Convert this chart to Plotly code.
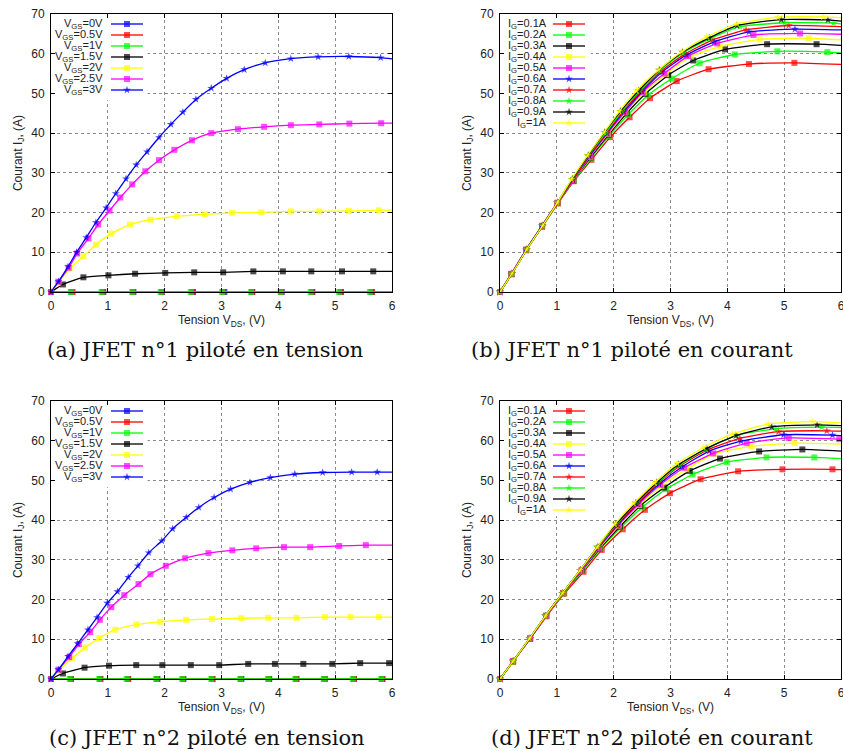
import plotly.graph_objects as go

# ---------------- data ----------------
# (a) JFET 1, voltage driven
A_X_0V = [0, 0.36, 0.92, 1.45, 1.95, 2.50, 3.05, 3.54, 4.06, 4.60, 5.10, 5.64, 6.0]
A_Y_0V = [0, 0, 0, 0, 0, 0, 0, 0, 0, 0, 0, 0, 0]
A_X_05V = [0, 0.38, 0.91, 1.44, 1.95, 2.48, 3.03, 3.54, 4.05, 4.59, 5.10, 5.65, 6.0]
A_Y_05V = [0, 0, 0, 0, 0, 0, 0, 0, 0, 0, 0, 0, 0]
A_X_1V = [0, 0.35, 0.89, 1.43, 1.93, 2.46, 3.01, 3.52, 4.04, 4.57, 5.07, 5.61, 6.0]
A_Y_1V = [0, 0, 0, 0, 0, 0, 0, 0, 0, 0, 0, 0, 0]
A_X_15V = [0, 0.21, 0.57, 1.01, 1.48, 2.01, 2.52, 3.03, 3.56, 4.08, 4.58, 5.12, 5.67, 6.0]
A_Y_15V = [0, 1.9, 3.7, 4.2, 4.6, 4.8, 4.95, 4.95, 5.2, 5.2, 5.2, 5.2, 5.2, 5.2]
A_X_2V = [0, 0.13, 0.33, 0.57, 0.79, 1.06, 1.39, 1.75, 2.21, 2.71, 3.19, 3.70, 4.22, 4.72, 5.24, 5.77, 6.0]
A_Y_2V = [0, 2.3, 5.9, 9.0, 11.9, 14.7, 17.0, 18.2, 19.05, 19.55, 19.9, 20.05, 20.3, 20.3, 20.4, 20.55, 20.6]
A_X_25V = [0, 0.13, 0.31, 0.46, 0.66, 0.83, 1.03, 1.22, 1.43, 1.66, 1.90, 2.17, 2.48, 2.82, 3.29, 3.75, 4.22, 4.72, 5.25, 5.81, 6.0]
A_Y_25V = [0, 2.6, 6.1, 9.7, 13.5, 17.0, 20.5, 23.8, 27.1, 30.4, 33.2, 35.8, 38.2, 40.0, 41.0, 41.6, 42.0, 42.2, 42.4, 42.5, 42.5]
A_X_3V = [0, 0.13, 0.30, 0.45, 0.62, 0.79, 0.97, 1.14, 1.32, 1.50, 1.69, 1.90, 2.11, 2.32, 2.55, 2.82, 3.09, 3.40, 3.77, 4.22, 4.70, 5.24, 5.80, 6.0]
A_Y_3V = [0, 2.6, 6.4, 10.0, 13.7, 17.5, 21.2, 24.8, 28.5, 32.0, 35.3, 38.9, 42.2, 45.3, 48.5, 51.3, 53.8, 56.0, 57.7, 58.75, 59.2, 59.3, 59.0, 58.7]

# (c) JFET 2, voltage driven
C_X_0V = [0, 0.35, 0.87, 1.35, 1.87, 2.33, 2.84, 3.35, 3.84, 4.32, 4.81, 5.33, 5.83, 6.0]
C_Y_0V = [0, 0, 0, 0, 0, 0, 0, 0, 0, 0, 0, 0, 0, 0]
C_X_05V = [0, 0.35, 0.86, 1.36, 1.87, 2.32, 2.84, 3.34, 3.83, 4.31, 4.82, 5.33, 5.83, 6.0]
C_Y_05V = [0, 0, 0, 0, 0, 0, 0, 0, 0, 0, 0, 0, 0, 0]
C_X_1V = [0, 0.33, 0.85, 1.33, 1.85, 2.31, 2.82, 3.33, 3.82, 4.30, 4.80, 5.31, 5.81, 6.0]
C_Y_1V = [0, 0, 0, 0, 0, 0, 0, 0, 0, 0, 0, 0, 0, 0]
C_X_15V = [0, 0.21, 0.59, 1.02, 1.50, 1.96, 2.46, 2.96, 3.47, 3.94, 4.44, 4.95, 5.44, 5.95, 6.0]
C_Y_15V = [0, 1.4, 2.85, 3.35, 3.5, 3.5, 3.5, 3.5, 3.8, 3.8, 3.8, 3.8, 4.0, 4.0, 4.0]
C_X_2V = [0, 0.13, 0.37, 0.60, 0.85, 1.13, 1.50, 1.92, 2.38, 2.83, 3.35, 3.82, 4.32, 4.82, 5.27, 5.77, 6.0]
C_Y_2V = [0, 2.0, 5.2, 7.9, 10.3, 12.4, 13.7, 14.4, 14.9, 15.1, 15.3, 15.4, 15.4, 15.6, 15.6, 15.6, 15.6]
C_X_25V = [0, 0.13, 0.32, 0.49, 0.69, 0.86, 1.06, 1.29, 1.54, 1.75, 2.02, 2.36, 2.77, 3.19, 3.61, 4.10, 4.56, 5.07, 5.54, 6.0]
C_Y_25V = [0, 2.35, 5.5, 8.8, 11.8, 14.9, 18.1, 21.1, 23.9, 26.4, 28.5, 30.4, 31.7, 32.4, 32.9, 33.2, 33.2, 33.5, 33.7, 33.7]
C_X_3V = [0, 0.13, 0.30, 0.47, 0.65, 0.81, 0.99, 1.17, 1.36, 1.53, 1.72, 1.95, 2.14, 2.38, 2.60, 2.87, 3.16, 3.50, 3.86, 4.29, 4.78, 5.29, 5.74, 6.0]
C_Y_3V = [0, 2.35, 5.7, 8.9, 12.4, 15.5, 19.1, 22.0, 25.6, 28.5, 31.8, 34.8, 37.8, 40.7, 43.2, 45.7, 47.8, 49.5, 50.7, 51.6, 52.0, 52.1, 52.1, 52.1]

# (b) JFET 1, current driven
B_X_01 = [0, 0.2, 0.46, 0.74, 1.02, 1.30, 1.61, 1.94, 2.28, 2.64, 3.11, 3.67, 4.38, 5.18, 6.0]
B_Y_01 = [0, 4.5, 10.5, 16.4, 22.3, 27.9, 33.3, 39.0, 44.0, 48.8, 53.1, 56.1, 57.4, 57.7, 57.3]
B_X_02 = [0, 0.2, 0.46, 0.74, 1.01, 1.30, 1.60, 1.92, 2.25, 2.60, 3.02, 3.51, 4.13, 4.88, 5.76, 6.0]
B_Y_02 = [0, 4.5, 10.6, 16.5, 22.4, 28.0, 33.7, 39.3, 44.6, 49.5, 53.7, 57.6, 59.8, 60.6, 60.4, 60.2]
B_X_03 = [0, 0.2, 0.46, 0.74, 1.01, 1.29, 1.59, 1.91, 2.23, 2.56, 2.96, 3.40, 3.96, 4.70, 5.57, 6.0]
B_Y_03 = [0, 4.5, 10.6, 16.6, 22.4, 28.1, 33.9, 39.6, 45.0, 49.9, 54.6, 58.3, 61.1, 62.4, 62.4, 62.1]
B_X_04 = [0, 0.2, 0.46, 0.74, 1.01, 1.29, 1.58, 1.90, 2.21, 2.54, 2.92, 3.36, 3.87, 4.57, 5.43, 6.0]
B_Y_04 = [0, 4.5, 10.6, 16.6, 22.4, 28.2, 34.0, 39.8, 45.2, 50.2, 54.9, 59.3, 61.8, 63.6, 63.9, 63.5]
B_X_05 = [0, 0.2, 0.46, 0.74, 1.01, 1.29, 1.58, 1.89, 2.20, 2.51, 2.89, 3.31, 3.82, 4.46, 5.28, 6.0]
B_Y_05 = [0, 4.6, 10.7, 16.7, 22.5, 28.2, 34.1, 39.9, 45.3, 50.3, 55.0, 59.4, 62.6, 64.7, 65.1, 64.9]
B_X_06 = [0, 0.21, 0.46, 0.74, 1.01, 1.28, 1.57, 1.88, 2.18, 2.50, 2.85, 3.28, 3.77, 4.38, 5.19, 6.0]
B_Y_06 = [0, 4.6, 10.7, 16.7, 22.5, 28.3, 34.2, 40.0, 45.4, 50.5, 55.4, 59.7, 63.0, 65.5, 66.2, 66.0]
B_X_07 = [0, 0.21, 0.47, 0.75, 1.01, 1.28, 1.56, 1.87, 2.16, 2.48, 2.83, 3.25, 3.74, 4.33, 5.08, 6.0]
B_Y_07 = [0, 4.6, 10.7, 16.7, 22.5, 28.3, 34.2, 40.1, 45.4, 50.6, 55.6, 59.9, 63.5, 66.0, 67.1, 66.8]
B_X_08 = [0, 0.21, 0.47, 0.75, 1.01, 1.27, 1.55, 1.86, 2.14, 2.46, 2.81, 3.22, 3.70, 4.22, 5.01, 5.87, 6.0]
B_Y_08 = [0, 4.6, 10.7, 16.7, 22.5, 28.4, 34.3, 40.1, 45.5, 50.7, 55.8, 60.2, 63.8, 66.8, 67.8, 67.7, 67.5]
B_X_09 = [0, 0.21, 0.47, 0.75, 1.01, 1.27, 1.55, 1.84, 2.12, 2.44, 2.80, 3.21, 3.68, 4.17, 4.95, 5.77, 6.0]
B_Y_09 = [0, 4.6, 10.7, 16.7, 22.5, 28.4, 34.4, 40.2, 45.5, 50.7, 55.9, 60.4, 64.0, 67.1, 68.6, 68.5, 68.2]
B_X_10 = [0, 0.21, 0.47, 0.75, 1.01, 1.26, 1.54, 1.83, 2.10, 2.40, 2.79, 3.20, 3.64, 4.17, 4.89, 5.69, 6.0]
B_Y_10 = [0, 4.6, 10.7, 16.7, 22.5, 28.4, 34.4, 40.2, 45.5, 50.7, 55.9, 60.5, 64.3, 67.5, 69.2, 69.3, 69.1]

# (d) JFET 2, current driven
D_X_01 = [0, 0.23, 0.53, 0.82, 1.13, 1.47, 1.79, 2.16, 2.55, 2.99, 3.53, 4.19, 4.97, 5.85, 6.0]
D_Y_01 = [0, 4.4, 10.1, 15.8, 21.5, 27.0, 32.5, 37.7, 42.6, 46.8, 50.3, 52.3, 52.8, 52.8, 52.7]
D_X_02 = [0, 0.23, 0.53, 0.81, 1.12, 1.45, 1.77, 2.13, 2.50, 2.92, 3.39, 3.99, 4.69, 5.53, 6.0]
D_Y_02 = [0, 4.4, 10.2, 15.9, 21.6, 27.2, 32.8, 38.2, 43.2, 47.8, 51.5, 54.6, 55.8, 55.8, 55.5]
D_X_03 = [0, 0.23, 0.53, 0.81, 1.11, 1.44, 1.76, 2.11, 2.47, 2.89, 3.34, 3.87, 4.56, 5.32, 6.0]
D_Y_03 = [0, 4.4, 10.2, 15.9, 21.6, 27.3, 32.9, 38.4, 43.6, 48.2, 52.4, 55.5, 57.3, 57.8, 57.4]
D_X_04 = [0, 0.23, 0.53, 0.81, 1.11, 1.43, 1.75, 2.09, 2.45, 2.84, 3.28, 3.77, 4.42, 5.18, 6.0]
D_Y_04 = [0, 4.4, 10.2, 15.9, 21.6, 27.3, 33.0, 38.6, 43.8, 48.6, 52.8, 56.7, 58.6, 59.4, 59.2]
D_X_05 = [0, 0.23, 0.53, 0.81, 1.11, 1.43, 1.74, 2.08, 2.44, 2.82, 3.24, 3.75, 4.34, 5.08, 5.97, 6.0]
D_Y_05 = [0, 4.5, 10.2, 15.9, 21.6, 27.3, 33.0, 38.7, 44.0, 48.9, 53.2, 56.8, 59.4, 60.7, 60.4, 60.4]
D_X_06 = [0, 0.23, 0.53, 0.80, 1.10, 1.42, 1.73, 2.07, 2.42, 2.80, 3.20, 3.68, 4.24, 4.99, 5.85, 6.0]
D_Y_06 = [0, 4.5, 10.2, 15.9, 21.6, 27.4, 33.1, 38.8, 44.1, 49.1, 53.4, 57.4, 59.9, 61.5, 61.4, 61.3]
D_X_07 = [0, 0.23, 0.53, 0.80, 1.10, 1.42, 1.72, 2.06, 2.41, 2.78, 3.17, 3.64, 4.22, 4.90, 5.75, 6.0]
D_Y_07 = [0, 4.5, 10.2, 15.9, 21.6, 27.4, 33.1, 38.9, 44.2, 49.3, 53.7, 57.6, 60.6, 62.3, 62.5, 62.4]
D_X_08 = [0, 0.23, 0.52, 0.80, 1.10, 1.41, 1.72, 2.05, 2.40, 2.77, 3.16, 3.62, 4.17, 4.85, 5.66, 6.0]
D_Y_08 = [0, 4.5, 10.2, 15.9, 21.6, 27.4, 33.2, 39.0, 44.3, 49.4, 53.9, 57.9, 61.4, 63.0, 63.4, 63.3]
D_X_09 = [0, 0.23, 0.52, 0.80, 1.10, 1.41, 1.71, 2.04, 2.39, 2.76, 3.14, 3.64, 4.15, 4.78, 5.58, 6.0]
D_Y_09 = [0, 4.5, 10.2, 15.9, 21.6, 27.4, 33.2, 39.0, 44.3, 49.5, 54.0, 58.1, 61.3, 63.5, 64.0, 63.8]
D_X_10 = [0, 0.23, 0.52, 0.80, 1.10, 1.41, 1.71, 2.02, 2.35, 2.72, 3.12, 3.58, 4.09, 4.72, 5.50, 6.0]
D_Y_10 = [0, 4.5, 10.2, 15.9, 21.6, 27.4, 33.2, 39.0, 44.2, 49.4, 54.3, 58.3, 61.7, 64.2, 64.8, 64.5]

VGS_LABELS = ["V<sub>GS</sub>=0V", "V<sub>GS</sub>=0.5V", "V<sub>GS</sub>=1V", "V<sub>GS</sub>=1.5V",
              "V<sub>GS</sub>=2V", "V<sub>GS</sub>=2.5V", "V<sub>GS</sub>=3V"]
IG_LABELS = ["I<sub>G</sub>=0.1A", "I<sub>G</sub>=0.2A", "I<sub>G</sub>=0.3A", "I<sub>G</sub>=0.4A",
             "I<sub>G</sub>=0.5A", "I<sub>G</sub>=0.6A", "I<sub>G</sub>=0.7A", "I<sub>G</sub>=0.8A",
             "I<sub>G</sub>=0.9A", "I<sub>G</sub>=1A"]
CAPTIONS = ["(a) JFET n°1 piloté en tension", "(b) JFET n°1 piloté en courant",
            "(c) JFET n°2 piloté en tension", "(d) JFET n°2 piloté en courant"]
X_TITLE = "Tension V<sub>DS</sub>, (V)"
Y_TITLE = "Courant I<sub>J</sub>, (A)"

# ---------------- styles ----------------
BLUE, RED, GREEN, BLACK, YELLOW, MAGENTA = "#0000ff", "#ff0000", "#00ff00", "#000000", "#ffff00", "#ff00ff"
VGS_STYLE = [(BLUE, "square"), (RED, "square"), (GREEN, "square"), (BLACK, "square"),
             (YELLOW, "square"), (MAGENTA, "square"), (BLUE, "star")]
IG_STYLE = [(RED, "square"), (GREEN, "square"), (BLACK, "square"), (YELLOW, "square"),
            (MAGENTA, "square"), (BLUE, "star"), (RED, "star"), (GREEN, "star"),
            (BLACK, "star"), (YELLOW, "star")]

A_SERIES = [(A_X_0V, A_Y_0V), (A_X_05V, A_Y_05V), (A_X_1V, A_Y_1V), (A_X_15V, A_Y_15V),
            (A_X_2V, A_Y_2V), (A_X_25V, A_Y_25V), (A_X_3V, A_Y_3V)]
C_SERIES = [(C_X_0V, C_Y_0V), (C_X_05V, C_Y_05V), (C_X_1V, C_Y_1V), (C_X_15V, C_Y_15V),
            (C_X_2V, C_Y_2V), (C_X_25V, C_Y_25V), (C_X_3V, C_Y_3V)]
B_SERIES = [(B_X_01, B_Y_01), (B_X_02, B_Y_02), (B_X_03, B_Y_03), (B_X_04, B_Y_04), (B_X_05, B_Y_05),
            (B_X_06, B_Y_06), (B_X_07, B_Y_07), (B_X_08, B_Y_08), (B_X_09, B_Y_09), (B_X_10, B_Y_10)]
D_SERIES = [(D_X_01, D_Y_01), (D_X_02, D_Y_02), (D_X_03, D_Y_03), (D_X_04, D_Y_04), (D_X_05, D_Y_05),
            (D_X_06, D_Y_06), (D_X_07, D_Y_07), (D_X_08, D_Y_08), (D_X_09, D_Y_09), (D_X_10, D_Y_10)]

W, H = 843, 751
# panel boxes in pixels: left, top, right, bottom
PANELS = [(51, 14, 392, 292), (500, 14, 841, 292), (51, 401, 392, 679), (500, 401, 841, 679)]
PANEL_DATA = [(A_SERIES, VGS_LABELS, VGS_STYLE), (B_SERIES, IG_LABELS, IG_STYLE),
              (C_SERIES, VGS_LABELS, VGS_STYLE), (D_SERIES, IG_LABELS, IG_STYLE)]
# key geometry inside panel (pixel offsets): text right edge, line start, line end
KEY_GEOM = [(53, 60, 92), (48, 53, 85), (53, 60, 92), (48, 53, 85)]
KEY_BOX = [(1.7, 48.3), (1.6, 41.0), (1.7, 48.3), (1.6, 41.0)]  # white box behind key (x1, y0)
CAPTION_POS = [(205, 350), (632, 350), (207, 738), (652, 738)]

SQ, ST = 6, 6
FONT = "Liberation Sans, Arial, sans-serif"

fig = go.Figure()
layout = dict(width=W, height=H, margin=dict(l=0, r=0, t=0, b=0), template="none",
              paper_bgcolor="white", plot_bgcolor="white", showlegend=False, hovermode=False,
              font=dict(family=FONT, size=12, color="#222"))
shapes, annotations = [], []

def ax_name(prefix, k):
    return prefix if k == 1 else f"{prefix}{k}"

for k, (l, t, r, b) in enumerate(PANELS, start=1):
    xd = [l / W, r / W]
    yd = [1 - b / H, 1 - t / H]
    common = dict(showline=True, linecolor="black", linewidth=1, mirror="allticks",
                  ticks="inside", ticklen=4, tickcolor="black", showgrid=True,
                  gridcolor="#8a8a8a", griddash="dot", gridwidth=1, zeroline=False,
                  automargin=False, ticklabeloverflow="allow",
                  tickfont=dict(family=FONT, size=12, color="#222"))
    layout[f"xaxis{k}"] = dict(common, domain=xd, anchor=ax_name("y", k), range=[0, 6], dtick=1,
                               tick0=0, ticklabelstandoff=3,
                               title=dict(text=X_TITLE, standoff=3, font=dict(family=FONT, size=12, color="#222")))
    layout[f"yaxis{k}"] = dict(common, domain=yd, anchor=ax_name("x", k), range=[0, 70], dtick=10,
                               tick0=0, ticklabelstandoff=3,
                               title=dict(text=Y_TITLE, standoff=6, font=dict(family=FONT, size=12, color="#222")))
    # key axes overlaying the panel, in pixel offsets
    layout[f"xaxis{k+4}"] = dict(overlaying=ax_name("x", k), anchor=ax_name("y", k + 4),
                                 range=[0, r - l], visible=False, automargin=False)
    layout[f"yaxis{k+4}"] = dict(overlaying=ax_name("y", k), anchor=ax_name("x", k + 4),
                                 range=[b - t, 0], visible=False, automargin=False)

    series, labels, styles = PANEL_DATA[k - 1]
    xa, ya = ax_name("x", k), ax_name("y", k)
    kx, ky = ax_name("x", k + 4), ax_name("y", k + 4)
    bx1, by0 = KEY_BOX[k - 1]
    shapes.append(dict(type="rect", xref=xa, yref=ya, x0=0, x1=bx1, y0=by0, y1=70,
                       fillcolor="white", line=dict(width=0), layer="between"))
    txt_r, ln0, ln1 = KEY_GEOM[k - 1]
    for i, ((xs, ys), lab, (col, sym)) in enumerate(zip(series, labels, styles)):
        msize = SQ if sym == "square" else ST
        sizes = [0 if x >= 6.0 else msize for x in xs]
        fig.add_trace(go.Scatter(x=xs, y=ys, xaxis=xa, yaxis=ya, mode="lines+markers",
                                 line=dict(color=col, width=1.3, shape="spline", smoothing=0.5),
                                 marker=dict(color=col, symbol=sym, size=sizes, line=dict(width=0)),
                                 cliponaxis=False))
        row = 10 + 11 * i
        fig.add_trace(go.Scatter(x=[ln0, (ln0 + ln1) / 2, ln1], y=[row, row, row], xaxis=kx, yaxis=ky,
                                 mode="lines+markers", line=dict(color=col, width=1.3),
                                 marker=dict(color=col, symbol=sym, size=[0, msize, 0], line=dict(width=0)),
                                 cliponaxis=False))
        annotations.append(dict(xref=kx, yref=ky, x=txt_r, y=row, text=lab, showarrow=False,
                                xanchor="right", yanchor="middle", borderpad=0,
                                font=dict(family=FONT, size=11, color="#222")))
    cx, cy = CAPTION_POS[k - 1]
    annotations.append(dict(xref="paper", yref="paper", x=cx / W, y=1 - cy / H, text=CAPTIONS[k - 1],
                            showarrow=False, xanchor="center", yanchor="middle",
                            font=dict(family="DejaVu Serif, serif", size=21, color="#111")))

layout["shapes"] = shapes
layout["annotations"] = annotations
fig.update_layout(**layout)
fig.write_html("out.html", config={"displayModeBar": False, "staticPlot": True},
               post_script="document.body.style.margin='0';document.body.style.padding='0';"
                           "document.body.style.overflow='hidden';")
